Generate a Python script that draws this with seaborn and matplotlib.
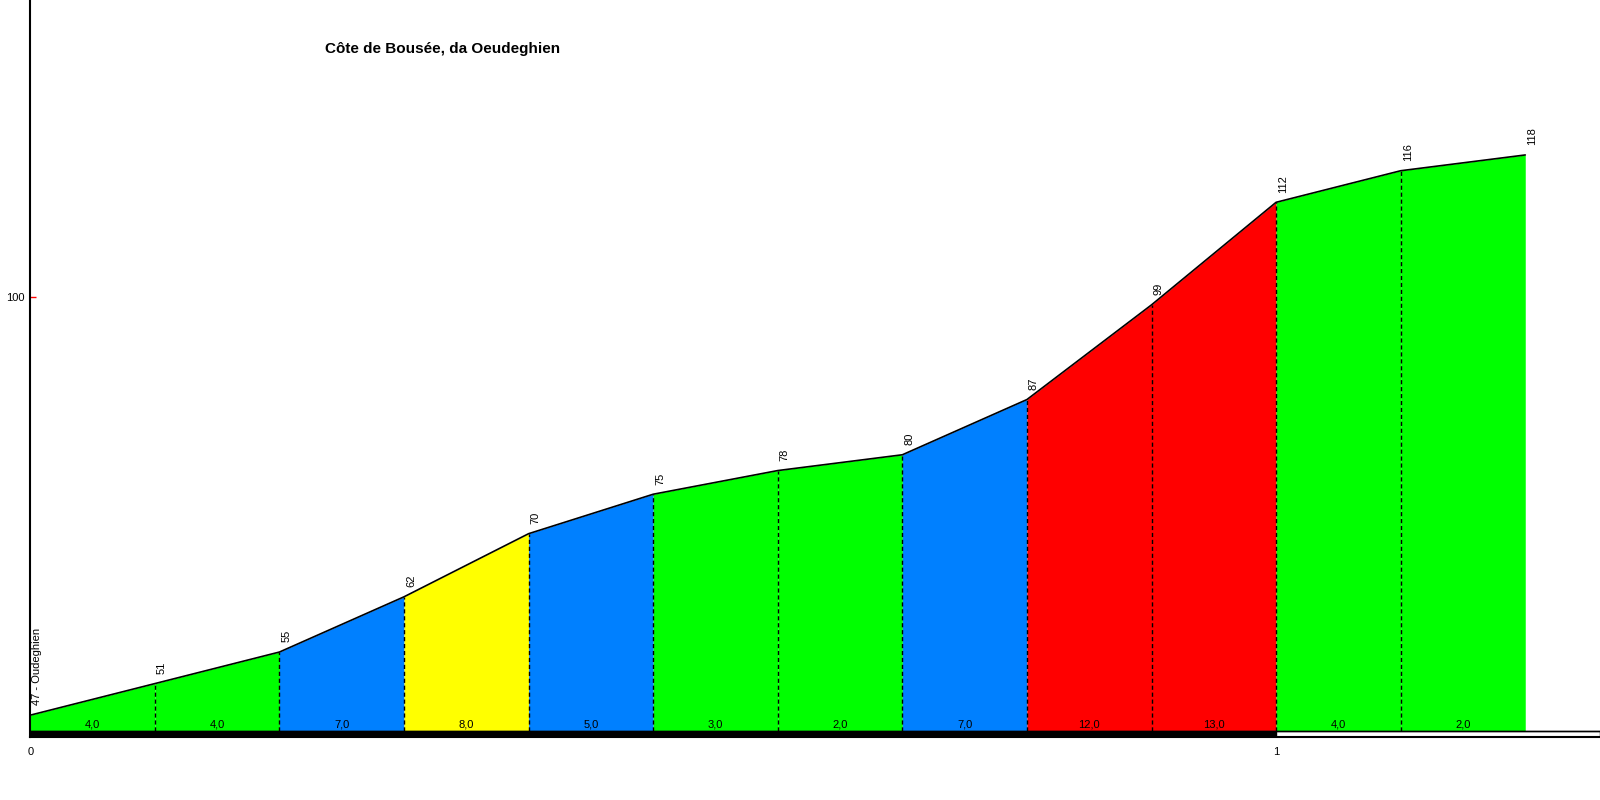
import pandas as pd
import matplotlib
matplotlib.use("Agg")
import matplotlib.pyplot as plt
import seaborn as sns

# data read from the profile
km = [0.0, 0.1, 0.2, 0.3, 0.4, 0.5, 0.6, 0.7, 0.8, 0.9, 1.0, 1.1, 1.2]
quota = [47, 51, 55, 62, 70, 75, 78, 80, 87, 99, 112, 116, 118]
pendenza = [4.0, 4.0, 7.0, 8.0, 5.0, 3.0, 2.0, 7.0, 12.0, 13.0, 4.0, 2.0]
partenza = "Oudeghien"
titolo = "Côte de Bousée, da Oeudeghien"
km_ticks = [0, 1]
y_ticks = [100]

df = pd.DataFrame({"km": km, "quota": quota})


def colore(p):
    if p < 5:
        return "#00FF00"
    if p < 8:
        return "#0080FF"
    if p < 12:
        return "#FFFF00"
    return "#FF0000"


sns.set_style("white")
plt.rcParams["font.family"] = ["Liberation Sans", "DejaVu Sans"]
plt.rcParams["text.color"] = "black"
plt.rcParams["xtick.labelcolor"] = "black"
plt.rcParams["ytick.labelcolor"] = "black"

fig = plt.figure(figsize=(16, 8), dpi=100)
ax = fig.add_axes([30.3 / 1600, 63 / 800, 1 - 30.3 / 1600, 737 / 800])

base = 45.0
x_max = 1.26
y_min, y_max = 44.23, 137.64

# filled segments coloured by gradient
for i, p in enumerate(pendenza):
    ax.fill_between(km[i:i + 2], quota[i:i + 2], base, color=colore(p), linewidth=0, zorder=1)
    ax.annotate(f"{p:.1f}".replace(".", ","), xy=((km[i] + km[i + 1]) / 2, base),
                xytext=(0, 1), textcoords="offset points", ha="center", va="bottom",
                fontsize=8, color="black", zorder=4)

# dashed separators
ax.vlines(km[1:-1], base, quota[1:-1], colors="black", linestyles=(0, (3, 2)), linewidth=1, zorder=2)

# profile line
sns.lineplot(data=df, x="km", y="quota", color="black", linewidth=1.2, ax=ax, zorder=3)

# elevation labels
for i, (x, q) in enumerate(zip(km, quota)):
    lab = f"{q} - {partenza}" if i == 0 else str(q)
    ax.annotate(lab, xy=(x, q), xytext=(5, 7), textcoords="offset points", rotation=90,
                ha="center", va="bottom", fontsize=8, color="black", zorder=4)

# km bar along the bottom
for k in km_ticks:
    ax.fill_between([k, min(k + 1, x_max)], y_min, base,
                    color="black" if k % 2 == 0 else "white", edgecolor="black",
                    linewidth=1, zorder=2)
ax.axhline(base, color="black", linewidth=1, zorder=2)

ax.set_xlim(0, x_max)
ax.set_ylim(y_min, y_max)
ax.set_xticks(km_ticks)
ax.set_xticklabels([str(k) for k in km_ticks])
ax.set_yticks(y_ticks)
ax.tick_params(axis="x", bottom=True, length=0, pad=7, labelsize=8)
ax.tick_params(axis="y", left=True, direction="in", length=4, width=1, color="red",
               pad=4, labelsize=8)
ax.set_xlabel("")
ax.set_ylabel("")
for s in ["top", "right"]:
    ax.spines[s].set_visible(False)
ax.spines["left"].set_color("black")
ax.spines["left"].set_linewidth(1.5)
ax.spines["bottom"].set_color("black")
ax.spines["bottom"].set_linewidth(1.5)

fig.text(443 / 1600, 1 - 49 / 800, titolo, ha="center", va="center",
         fontsize=11, fontweight="bold", color="black")

fig.savefig("out.png", dpi=100)
